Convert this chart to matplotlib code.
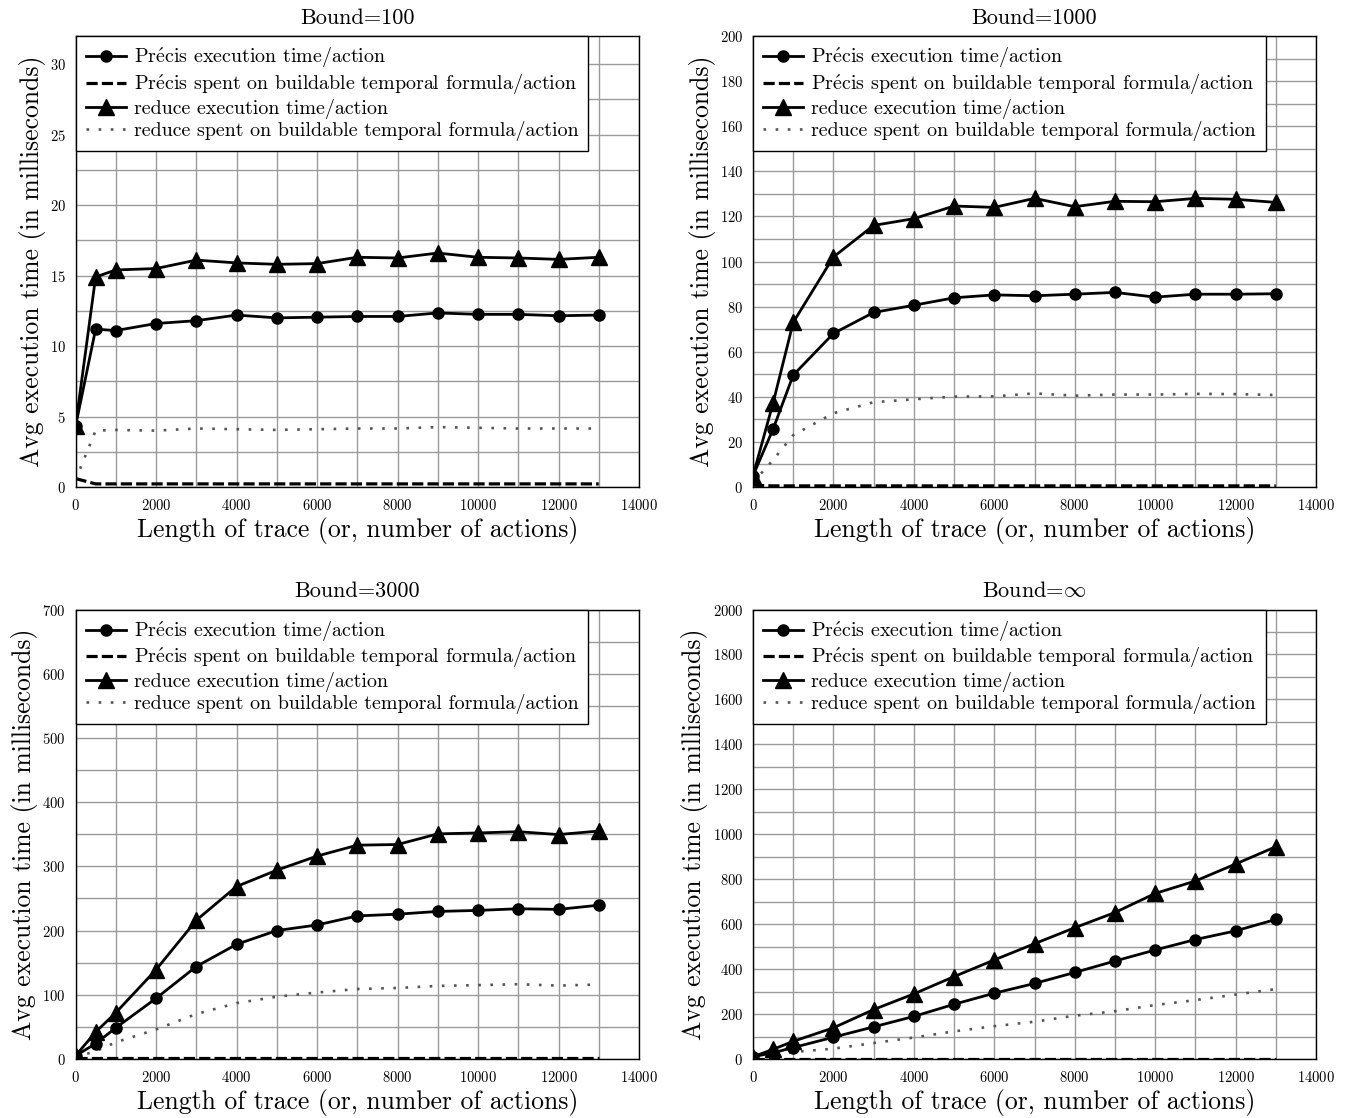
import numpy as np
import matplotlib
matplotlib.use("Agg")
import matplotlib.pyplot as plt

plt.rcParams['font.family'] = 'serif'
plt.rcParams['font.serif'] = ['cmr10', 'DejaVu Serif']
plt.rcParams['mathtext.fontset'] = 'cm'
plt.rcParams['axes.formatter.use_mathtext'] = True
plt.rcParams['axes.unicode_minus'] = False

# trace lengths (x values shared by every panel)
trace_len = [0, 500, 1000, 2000, 3000, 4000, 5000, 6000, 7000,
             8000, 9000, 10000, 11000, 12000, 13000]

# Bound = 100
b100_precis_exec = [4.3, 11.2, 11.1, 11.6, 11.8, 12.2, 12.0, 12.05, 12.1, 12.1, 12.35, 12.25, 12.25, 12.15, 12.2]
b100_precis_spent = [0.6, 0.22, 0.22, 0.22, 0.22, 0.22, 0.22, 0.22, 0.22, 0.22, 0.22, 0.22, 0.22, 0.22, 0.22]
b100_reduce_exec = [4.3, 14.9, 15.4, 15.5, 16.1, 15.9, 15.8, 15.85, 16.3, 16.25, 16.6, 16.3, 16.25, 16.15, 16.3]
b100_reduce_spent = [0.5, 4.0, 4.05, 4.0, 4.15, 4.1, 4.05, 4.1, 4.15, 4.15, 4.25, 4.2, 4.15, 4.15, 4.15]

# Bound = 1000
b1000_precis_exec = [5, 25.7, 49.6, 68.1, 77.4, 80.6, 83.9, 85.2, 84.8, 85.5, 86.3, 84.2, 85.5, 85.5, 85.7]
b1000_precis_spent = [0.8, 0.5, 0.5, 0.5, 0.5, 0.5, 0.5, 0.5, 0.5, 0.5, 0.5, 0.5, 0.5, 0.5, 0.5]
b1000_reduce_exec = [5, 37.3, 73, 102, 116, 119, 124.6, 124, 128, 124.3, 126.7, 126.5, 128, 127.6, 126.2]
b1000_reduce_spent = [2, 12, 23, 32.7, 37.6, 38.9, 40.1, 40.2, 41.5, 40.5, 41, 41, 41.3, 41.2, 40.8]

# Bound = 3000
b3000_precis_exec = [5, 24, 48.5, 94.4, 144, 178.5, 200, 208.7, 222.8, 225.5, 229.8, 231.4, 234, 233, 239.5]
b3000_precis_spent = [1.5, 1.5, 1.5, 1.5, 1.5, 1.5, 1.5, 1.5, 1.5, 1.5, 1.5, 1.5, 1.5, 1.5, 1.5]
b3000_reduce_exec = [5, 42, 72, 139, 216, 268.6, 294, 316, 333, 334, 350.6, 352, 354, 349.5, 355]
b3000_reduce_spent = [3, 12, 26, 46, 70, 87, 97, 103.5, 109, 110.6, 113.8, 115, 116.5, 114.3, 116]

# Bound = infinity
binf_precis_exec = [10, 27.7, 50.8, 97, 143, 189.5, 243.5, 292.8, 336, 385, 436, 485, 531.6, 570, 621]
binf_precis_spent = [2, 2, 2, 2, 2, 2, 2, 2, 2, 2, 2, 2, 2, 2, 2]
binf_reduce_exec = [10, 43, 78.6, 138.7, 220, 289.7, 366.7, 440.7, 513, 584, 651.8, 736.5, 792, 867.5, 944.5]
binf_reduce_spent = [5, 12, 31, 46, 71, 95.5, 123, 146, 166, 192.6, 212.6, 240, 262, 286.6, 311]

titles = ['Bound=100', 'Bound=1000', 'Bound=3000', r'Bound=$\infty$']
y_tops = [32, 200, 700, 2000]
y_major = [5, 20, 100, 200]

panels = [
    (b100_precis_exec, b100_precis_spent, b100_reduce_exec, b100_reduce_spent),
    (b1000_precis_exec, b1000_precis_spent, b1000_reduce_exec, b1000_reduce_spent),
    (b3000_precis_exec, b3000_precis_spent, b3000_reduce_exec, b3000_reduce_spent),
    (binf_precis_exec, binf_precis_spent, binf_reduce_exec, binf_reduce_spent),
]

labels = [r'Pr$\acute{\mathrm{e}}$cis execution time/action',
          r'Pr$\acute{\mathrm{e}}$cis spent on buildable temporal formula/action',
          'reduce execution time/action',
          'reduce spent on buildable temporal formula/action']

fig = plt.figure(figsize=(13.54, 11.18), dpi=100)
W, H = 1354.0, 1118.0
# panel boxes in pixels: left, top, right, bottom
boxes = [(75.5, 36, 639, 487), (753, 36, 1316, 487),
         (75.5, 609.5, 639, 1059), (753, 609.5, 1316, 1059)]

for i, (l, t, r, b) in enumerate(boxes):
    ax = fig.add_axes([l / W, 1 - b / H, (r - l) / W, (b - t) / H])
    pe, ps, re_, rs = panels[i]
    ax.plot(trace_len, pe, color='black', lw=2.0, marker='o', ms=8, label=labels[0], zorder=4)
    ax.plot(trace_len, ps, color='black', lw=2.3, ls=(0, (3.5, 1.3)), label=labels[1], zorder=3)
    ax.plot(trace_len, re_, color='black', lw=2.0, marker='^', ms=12, label=labels[2], zorder=4)
    ax.plot(trace_len, rs, color='#555555', lw=1.9, ls=(0, (1, 3.6)), label=labels[3], zorder=3)

    ax.set_xlim(0, 14000)
    ax.set_ylim(0, y_tops[i])
    ax.set_xticks(np.arange(0, 14001, 2000))
    ax.set_xticks(np.arange(0, 14001, 1000), minor=True)
    ax.set_yticks(np.arange(0, y_tops[i] + 0.1, y_major[i]))
    ax.set_yticks(np.arange(0, y_tops[i] + 0.1, y_major[i] / 2.0), minor=True)
    ax.grid(True, which='both', color='#9a9a9a', lw=1.0)
    ax.set_axisbelow(True)
    ax.tick_params(which='both', length=0, labelsize=10.5)
    ax.tick_params(axis='x', pad=8)
    ax.tick_params(axis='y', pad=7)
    for sp in ax.spines.values():
        sp.set_linewidth(1.0)
        sp.set_zorder(5)

    ax.set_title(titles[i], fontsize=16, pad=9)
    ax.set_xlabel('Length of trace (or, number of actions)', fontsize=18.5, labelpad=3)
    ax.set_ylabel('Avg execution time (in milliseconds)', fontsize=18.5, labelpad=3)

    leg = ax.legend(loc='upper left', fontsize=14.4, frameon=True, fancybox=False,
                    framealpha=1, edgecolor='black', borderaxespad=0,
                    handlelength=2.0, handletextpad=0.4, labelspacing=0.1, borderpad=0.5)
    leg.get_frame().set_linewidth(1.0)
    leg.set_zorder(6)

fig.savefig('out.png', dpi=100)
